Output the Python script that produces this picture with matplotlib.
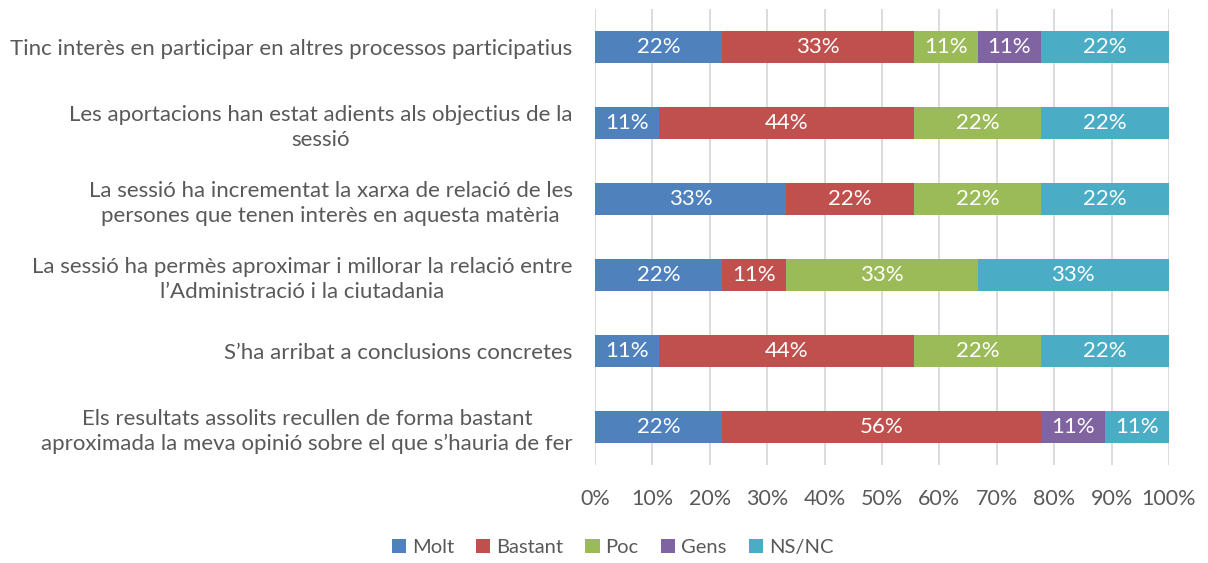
import numpy as np
import matplotlib.pyplot as plt

# survey statements, top to bottom
categories = [
    "Tinc interès en participar en altres processos participatius",
    "Les aportacions han estat adients als objectius de la\nsessió",
    "La sessió ha incrementat la xarxa de relació de les\npersones que tenen interès en aquesta matèria",
    "La sessió ha permès aproximar i millorar la relació entre\nl\u2019Administració i la ciutadania",
    "S\u2019ha arribat a conclusions concretes",
    "Els resultats assolits recullen de forma bastant\naproximada la meva opinió sobre el que s\u2019hauria de fer",
]

series_names = ["Molt", "Bastant", "Poc", "Gens", "NS/NC"]
molt    = [22.22, 11.11, 33.33, 22.22, 11.11, 22.22]
bastant = [33.33, 44.44, 22.22, 11.11, 44.44, 55.56]
poc     = [11.11, 22.22, 22.22, 33.33, 22.22, 0.0]
gens    = [11.11, 0.0, 0.0, 0.0, 0.0, 11.11]
nsnc    = [22.22, 22.22, 22.22, 33.33, 22.22, 11.11]

colors = ["#4F81BD", "#C0504D", "#9BBB59", "#8064A2", "#4BACC6"]

plt.rcParams['font.family'] = ['Lato', 'DejaVu Sans']
txt_col = "#595959"
fs = 16

fig = plt.figure(figsize=(12.08, 5.63), dpi=100)
ax = fig.add_axes([0.4925, 0.174, 0.4752, 0.810])

y = np.arange(len(categories))
left = np.zeros(len(categories))
for name, vals, c in zip(series_names, [molt, bastant, poc, gens, nsnc], colors):
    vals = np.array(vals)
    bars = ax.barh(y, vals, left=left, height=0.41, color=c, label=name, zorder=3)
    for b, v in zip(bars, vals):
        if v > 0:
            ax.text(b.get_x() + b.get_width() / 2, b.get_y() + b.get_height() / 2,
                    "%d%%" % round(v), ha='center', va='center', color='white',
                    fontsize=fs, zorder=4)
    left += vals

ax.set_xlim(0, 100)
ax.set_ylim(len(categories) - 0.5, -0.5)
ax.set_xticks(np.arange(0, 101, 10))
ax.set_xticklabels(["%d%%" % t for t in range(0, 101, 10)], fontsize=15.5, color=txt_col)
ax.set_yticks(y)
ax.set_yticklabels(categories, fontsize=fs, color=txt_col, multialignment='center',
                   linespacing=1.3)
ax.tick_params(axis='y', length=0, pad=16)
ax.tick_params(axis='x', length=0, pad=17)
ax.grid(axis='x', color='#D9D9D9', linewidth=1.3, zorder=0)
for s in ax.spines.values():
    s.set_visible(False)

fig.legend(loc='center', bbox_to_anchor=(0.507, 0.027), ncol=5, frameon=False,
           fontsize=14.5, handlelength=0.7, handleheight=0.7, handletextpad=0.3,
           columnspacing=1.1, labelcolor=txt_col)

fig.savefig("out.png", dpi=100)
